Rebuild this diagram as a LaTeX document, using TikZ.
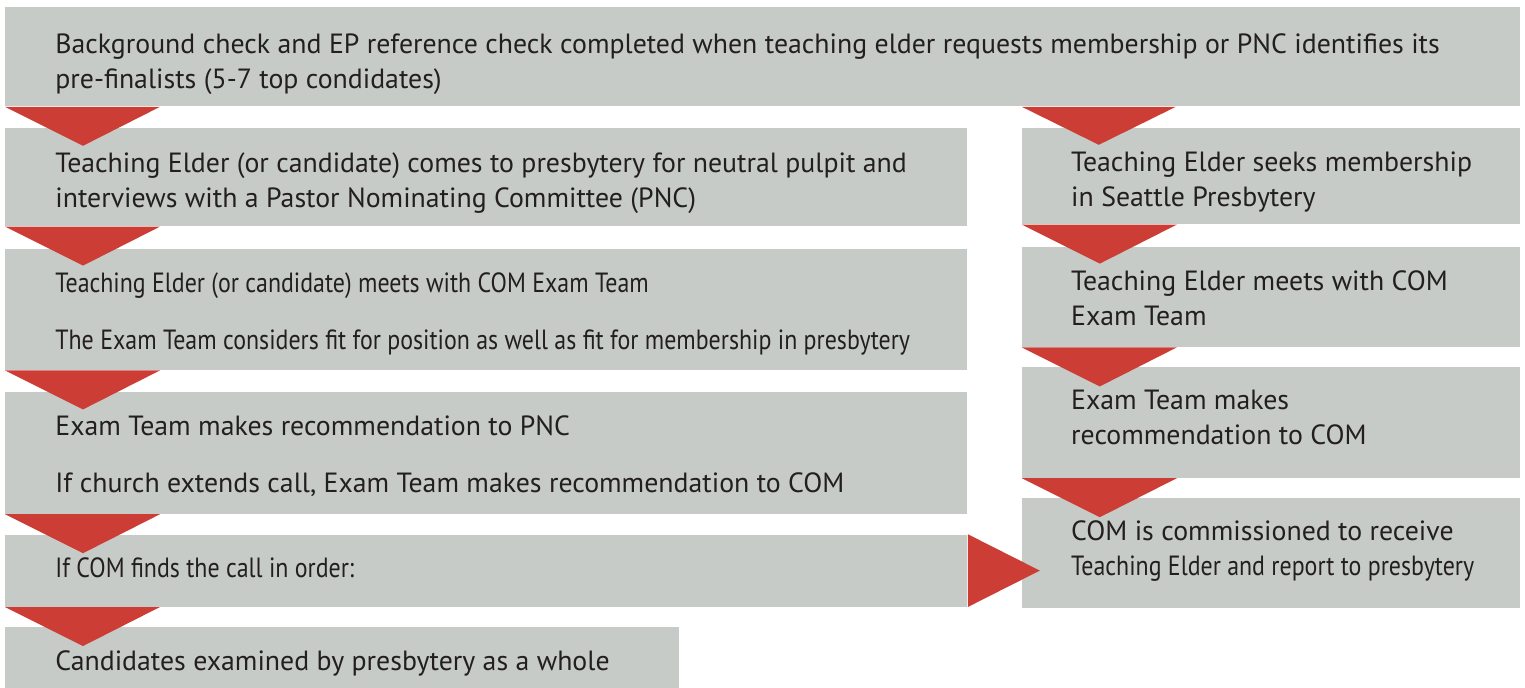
\documentclass[tikz,border=0pt]{standalone}
\usepackage{fontspec}
\setmainfont{PT Sans}
\newfontfamily\narrowfont[FakeStretch=0.86]{PT Sans}
\usetikzlibrary{positioning,calc}
\definecolor{boxgray}{HTML}{C6CBC7}
\definecolor{arrowred}{HTML}{CC3D35}
\definecolor{textdark}{HTML}{231F20}
\tikzset{
  stepbox/.style={fill=boxgray, inner sep=0pt, anchor=north west},
  leftbox/.style={stepbox, minimum width=481pt},
  rightbox/.style={stepbox, minimum width=249pt},
  steptext/.style={text=textdark, inner sep=0pt, align=left,
    font=\fontsize{13.9}{17.5}\selectfont},
  tri/.style={fill=arrowred}
}

\begin{document}
\begin{tikzpicture}
	\useasboundingbox (0,0) rectangle (762.5pt,-343.5pt);
	% boxes, top row and left column
	\node[stepbox, minimum width=757.5pt, minimum height=49.5pt] (check) at (2.5pt,-3.5pt) {};
	\node[leftbox, minimum height=49pt, below=10.5pt of check.south west, anchor=north west] (neutral) {};
	\node[leftbox, minimum height=60.5pt, below=11pt of neutral.south west, anchor=north west] (meet) {};
	\node[leftbox, minimum height=61pt, below=10.5pt of meet.south west, anchor=north west] (recommend) {};
	\node[leftbox, minimum height=36pt, below=10pt of recommend.south west, anchor=north west] (inorder) {};
	\node[stepbox, minimum width=337pt, minimum height=32pt, below=10pt of inorder.south west, anchor=north west] (whole) {};
	% boxes, right column
	\node[rightbox, minimum height=48pt, right=27pt of neutral.north east, anchor=north west] (seek) {};
	\node[rightbox, minimum height=50pt, below=11pt of seek.south west, anchor=north west] (exammeet) {};
	\node[rightbox, minimum height=55.5pt, below=9.5pt of exammeet.south west, anchor=north west] (examrec) {};
	\node[rightbox, minimum height=55pt, below=9.5pt of examrec.south west, anchor=north west] (commission) {};

	% texts
	\node[steptext, right=25pt of check.west, yshift=-3.5pt] (checktxt)
		{Background check and EP reference check completed when teaching elder requests membership or PNC identifies its\\ pre-finalists (5-7 top condidates)};
	\node[steptext, right=25pt of neutral.west, yshift=-3pt] (neutraltxt)
		{Teaching Elder (or candidate) comes to presbytery for neutral pulpit and\\ interviews with a Pastor Nominating Committee (PNC)};
	\node[steptext, right=25pt of meet.west, yshift=-2pt] (meettxt)
		{\narrowfont Teaching Elder (or candidate) meets with COM Exam Team\\[11pt]
		 \narrowfont The Exam Team considers fit for position as well as fit for membership in presbytery};
	\node[steptext, right=25pt of recommend.west, yshift=-1.5pt] (recommendtxt)
		{Exam Team makes recommendation to PNC\\[11pt]
		 If church extends call, Exam Team makes recommendation to COM};
	\node[steptext, right=25pt of inorder.west, yshift=1.5pt] (inordertxt)
		{\narrowfont If COM finds the call in order:};
	\node[steptext, right=25pt of whole.west, yshift=-2pt] (wholetxt)
		{Candidates examined by presbytery as a whole};
	\node[steptext, right=24.5pt of seek.west, yshift=-3pt] (seektxt)
		{Teaching Elder seeks membership\\ in Seattle Presbytery};
	\node[steptext, right=24.5pt of exammeet.west, yshift=-0.75pt] (exammeettxt)
		{Teaching Elder meets with COM\\ Exam Team};
	\node[steptext, right=24.5pt of examrec.west, yshift=2.25pt] (examrectxt)
		{Exam Team makes\\ recommendation to COM};
	\node[steptext, right=24.5pt of commission.west, yshift=1pt] (commissiontxt)
		{COM is commissioned to receive\\ {\narrowfont Teaching Elder and report to presbytery}};

	% red arrows
	\foreach \a in {check,neutral,meet,recommend,inorder,seek,exammeet,examrec}
		\fill[tri] (\a.south west) -- ++(77.5pt,0pt) -- ++(-38.5pt,-19.5pt) -- cycle;
	\fill[tri] (check.south -| seek.west) -- ++(77pt,0pt) -- ++(-38.5pt,-19pt) -- cycle;
	\fill[tri] (inorder.north east) -- (inorder.south east) -- ($(inorder.east)+(36pt,0pt)$) -- cycle;
\end{tikzpicture}
\end{document}
